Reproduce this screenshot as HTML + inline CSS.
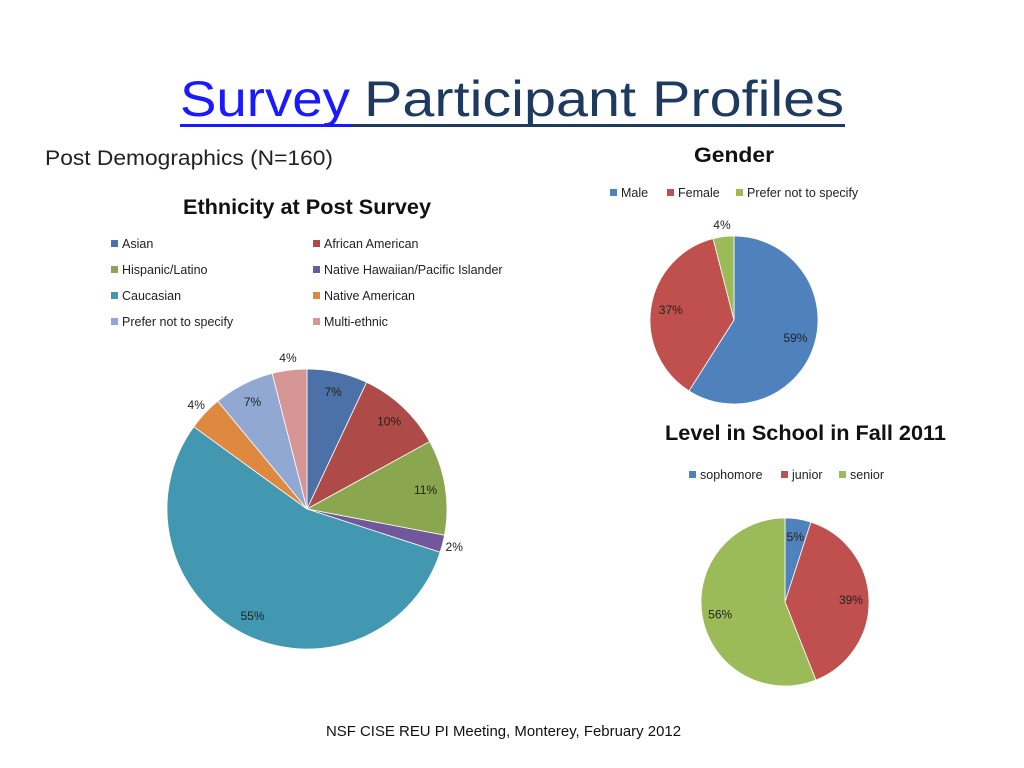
<!DOCTYPE html>
<html><head><meta charset="utf-8"><style>
html,body{margin:0;padding:0;background:#fff;}
svg{display:block;font-family:"Liberation Sans",sans-serif;}
</style></head><body>
<svg id="s" width="1024" height="768" viewBox="0 0 1024 768">
<g>
 <text x="180" y="116" font-size="50" fill="#1a1aff" textLength="170" lengthAdjust="spacingAndGlyphs">Survey</text>
 <text x="364" y="116" font-size="50" fill="#1F3A5F" textLength="480" lengthAdjust="spacingAndGlyphs">Participant Profiles</text>
 <rect x="180" y="124" width="172" height="3" fill="#1a1aff"/>
 <rect x="352" y="124" width="493" height="3" fill="#1F3A5F"/>
</g>
<text x="45" y="165" font-size="21" fill="#222" textLength="288" lengthAdjust="spacingAndGlyphs">Post Demographics (N=160)</text>
<text x="183" y="214" font-size="21" font-weight="bold" fill="#111" textLength="248" lengthAdjust="spacingAndGlyphs">Ethnicity at Post Survey</text>
<text x="694" y="162" font-size="21" font-weight="bold" fill="#111" textLength="80" lengthAdjust="spacingAndGlyphs">Gender</text>
<text x="665" y="440" font-size="21" font-weight="bold" fill="#111" textLength="281" lengthAdjust="spacingAndGlyphs">Level in School in Fall 2011</text>
<text x="326" y="736" font-size="15" fill="#111" textLength="355" lengthAdjust="spacingAndGlyphs">NSF CISE REU PI Meeting, Monterey, February 2012</text>
<g id="eth"></g>
<g id="gen"></g>
<g id="lvl"></g>
<g id="legs"></g>
</svg>
<script>
const ethCategories=["Asian","African American","Hispanic/Latino","Native Hawaiian/Pacific Islander","Caucasian","Native American","Prefer not to specify","Multi-ethnic"];
const ethValues=[7,10,11,2,55,4,7,4];
const ethLabels=["7%","10%","11%","2%","55%","4%","7%","4%"];
const genCategories=["Male","Female","Prefer not to specify"];
const genValues=[59,37,4];
const genLabels=["59%","37%","4%"];
const lvlCategories=["sophomore","junior","senior"];
const lvlValues=[5,39,56];
const lvlLabels=["5%","39%","56%"];

const ethColors=["#4C70A8","#AE4B48","#8AA64F","#71589A","#4198B0","#DE8840","#91A9D2","#D59695"];
const stdColors=["#4F81BD","#C0504D","#9BBB59"];
const NS="http://www.w3.org/2000/svg";
function mk(t,a,p){const e=document.createElementNS(NS,t);for(const k in a)e.setAttribute(k,a[k]);p.appendChild(e);return e;}
function pie(gid,cats,vals,labels,colors,cx,cy,r,lr,outR,name){
 const g=document.getElementById(gid);
 const tot=vals.reduce((a,b)=>a+b,0);
 let acc=0;
 vals.forEach((v,i)=>{
  const a0=acc/tot*2*Math.PI, a1=(acc+v)/tot*2*Math.PI; acc+=v;
  const x0=cx+r*Math.sin(a0),y0=cy-r*Math.cos(a0),x1=cx+r*Math.sin(a1),y1=cy-r*Math.cos(a1);
  const p=mk('path',{d:`M${cx},${cy}L${x0},${y0}A${r},${r} 0 ${a1-a0>Math.PI?1:0} 1 ${x1},${y1}Z`,fill:colors[i],stroke:'#fff','stroke-width':0.8},g);
  
  
  const am=(a0+a1)/2, rr=(v/tot<0.05)?outR:lr;
  const t=mk('text',{x:cx+rr*Math.sin(am),y:cy-rr*Math.cos(am)+4,'font-size':12,fill:'#222','text-anchor':'middle'},g);
  t.textContent=labels[i];
  
  
 });
}
pie('eth',ethCategories,ethValues,ethLabels,ethColors,307,509,140,120,152,'ethnicity');
pie('gen',genCategories,genValues,genLabels,stdColors,734,320,84,64,96,'gender');
pie('lvl',lvlCategories,lvlValues,lvlLabels,stdColors,785,602,84,66,66,'level');

const lg=document.getElementById('legs');
function entry(x,y,c,txt){
 const g=mk('g',{},lg);
 
 
 mk('rect',{x:x,y:y-8,width:7,height:7,fill:c},g);
 const t=mk('text',{x:x+11,y:y,'font-size':12.5,fill:'#222'},g);
 t.textContent=txt;
}
ethCategories.forEach((c,i)=>entry(i%2?313:111,248+Math.floor(i/2)*26,ethColors[i],c));
const gx=[610,667,736];
genCategories.forEach((c,i)=>entry(gx[i],197,stdColors[i],c));
const lx=[689,781,839];
lvlCategories.forEach((c,i)=>entry(lx[i],479,stdColors[i],c));
</script>
</body></html>
